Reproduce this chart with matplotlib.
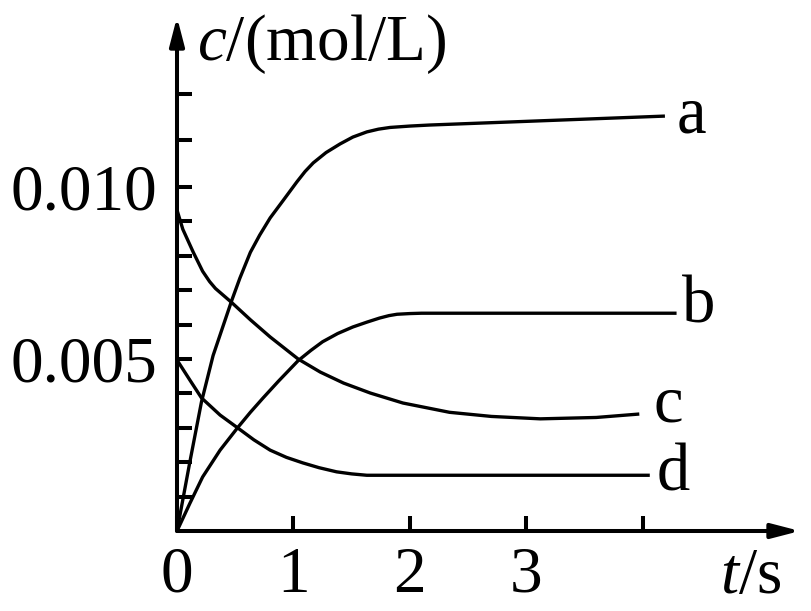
import matplotlib
matplotlib.use("Agg")
import matplotlib.pyplot as plt

plt.rcParams["font.family"] = ["Liberation Serif", "DejaVu Serif"]
plt.rcParams["mathtext.fontset"] = "custom"
plt.rcParams["mathtext.rm"] = "Liberation Serif"
plt.rcParams["mathtext.it"] = "Liberation Serif:italic"

# curve readings (t in s, c in 10^-3 mol/L)
a_t = [0, 0.11, 0.21, 0.31, 0.40, 0.47, 0.54, 0.63, 0.71, 0.80, 0.91, 1.03, 1.10, 1.17, 1.28,
       1.40, 1.51, 1.63, 1.73, 1.83, 2.0, 2.17, 4.19]
a_c = [0, 2.0, 3.75, 5.1, 6.0, 6.7, 7.35, 8.1, 8.6, 9.1, 9.6, 10.15, 10.45, 10.7, 11.0,
       11.25, 11.45, 11.6, 11.68, 11.73, 11.77, 11.8, 12.06]

b_t = [0, 0.11, 0.22, 0.37, 0.52, 0.63, 0.74, 0.87, 1.04, 1.15, 1.25, 1.38, 1.51, 1.63, 1.74,
       1.82, 1.89, 2.0, 2.1, 4.29]
b_c = [0, 0.80, 1.57, 2.35, 3.0, 3.45, 3.87, 4.35, 4.95, 5.25, 5.5, 5.74, 5.93, 6.07, 6.19,
       6.26, 6.30, 6.32, 6.33, 6.33]

c_t = [0, 0.05, 0.14, 0.22, 0.28, 0.33, 0.47, 0.63, 0.80, 1.04, 1.23, 1.43, 1.66, 1.94, 2.34,
       2.7, 3.12, 3.6, 3.97]
c_c = [9.33, 8.77, 8.1, 7.55, 7.25, 7.05, 6.64, 6.14, 5.64, 5.0, 4.62, 4.30, 4.01, 3.72, 3.45,
       3.33, 3.26, 3.30, 3.40]

d_t = [0, 0.11, 0.21, 0.37, 0.52, 0.66, 0.80, 0.94, 1.08, 1.22, 1.37, 1.50, 1.63, 4.06]
d_c = [4.97, 4.39, 3.87, 3.37, 3.0, 2.65, 2.35, 2.14, 1.98, 1.84, 1.72, 1.66, 1.62, 1.62]

curves = [(a_t, a_c, "a"), (b_t, b_c, "b"), (c_t, c_c, "c"), (d_t, d_c, "d")]
# label anchors (left, baseline) in data units
label_pos = {"a": (4.29, 11.57), "b": (4.34, 6.05), "c": (4.09, 3.17), "d": (4.12, 1.19)}

x_ticks = [0, 1, 2, 3, 4]
x_labels = ["0", "1", "2", "3", ""]
y_ticks = [0.001 * k for k in range(1, 11)] + [0.01137, 0.0127]
y_labels = ["0.005" if abs(v - 0.005) < 1e-9 else "0.010" if abs(v - 0.010) < 1e-9 else "" for v in y_ticks]

fig = plt.figure(figsize=(8.12, 6.11), dpi=100)
ax = fig.add_axes([177 / 812, 80 / 611, 623 / 812, 514 / 611])
ax.set_xlim(0, 5.35)
ax.set_ylim(0, 0.01494)

for t, c, name in curves:
    ax.plot(t, [v * 1e-3 for v in c], color="black", lw=2.4,
            solid_capstyle="butt", solid_joinstyle="round")
    lx, ly = label_pos[name]
    ax.text(lx, ly * 1e-3, name, fontsize=48, ha="left", va="baseline")

for s in ax.spines.values():
    s.set_visible(False)

arrow = dict(arrowstyle="-|>,head_length=0.85,head_width=0.22", lw=2.9, color="black",
             mutation_scale=20, shrinkA=0, shrinkB=0)
ax.annotate("", xy=(1, 0), xytext=(0, 0), xycoords="axes fraction", arrowprops=arrow)
ax.annotate("", xy=(0, 1), xytext=(0, 0), xycoords="axes fraction", arrowprops=arrow)

ax.set_xticks(x_ticks, x_labels)
ax.set_yticks(y_ticks, y_labels)
ax.tick_params(axis="x", direction="in", length=10.8, width=2.9, pad=11, labelsize=47)
ax.tick_params(axis="y", direction="in", length=10.8, width=2.9, pad=14, labelsize=47)

ax.text(0.17, 13.69e-3, r"$c$/(mol/L)", fontsize=47, ha="left", va="baseline")
ax.text(4.66, -1.80e-3, r"$t$/s", fontsize=47, ha="left", va="baseline")

fig.savefig("out.png", dpi=100)
